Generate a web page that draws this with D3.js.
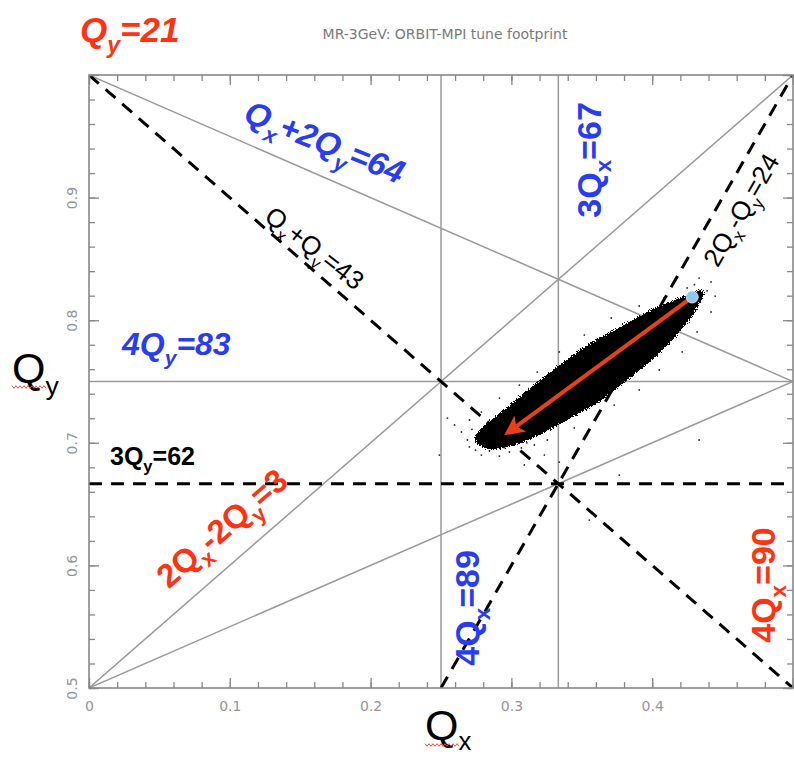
<!DOCTYPE html>
<html>
<head>
<meta charset="utf-8">
<script src="https://cdn.jsdelivr.net/npm/d3@7"></script>
<style>
  html, body { margin: 0; padding: 0; background: #fff; }
  svg { display: block; }
</style>
</head>
<body>
<svg id="chart" width="794" height="757"></svg>
<script>
// ---- data -------------------------------------------------------------
const qxRange = [0, 0.5];
const qyRange = [0.5, 1.0];
const qxTickLabels = [0, 0.1, 0.2, 0.3, 0.4];
const qyTickLabels = [0.5, 0.6, 0.7, 0.8, 0.9];

// resonance lines in fractional tune space [qx1, qy1, qx2, qy2]
const solidLines = [
  [0.25, 0.5, 0.25, 1.0],          // 4Qx=89
  [1 / 3, 0.5, 1 / 3, 1.0],        // 3Qx=67
  [0.0, 0.75, 0.5, 0.75],          // 4Qy=83
  [0.0, 1.0, 0.5, 0.75],           // Qx+2Qy=64
  [0.0, 0.5, 0.5, 1.0],            // 2Qx-2Qy=3
  [0.0, 0.5, 0.5, 0.75]            // Qx-2Qy
];
const dashedLines = [
  [0.0, 1.0, 0.5, 0.5],            // Qx+Qy=43
  [0.25, 0.5, 0.5, 1.0],           // 2Qx-Qy=24
  [0.0, 2 / 3, 0.5, 2 / 3]         // 3Qy=62
];

// dense core of the tune footprint (outline)
const footprintCore = [
  [0.4369, 0.8254], [0.4191, 0.8170], [0.3979, 0.8067], [0.3766, 0.7930],
  [0.3553, 0.7800], [0.3340, 0.7622], [0.3128, 0.7433], [0.2950, 0.7262],
  [0.2820, 0.7145], [0.2735, 0.7030], [0.2835, 0.6955], [0.3021, 0.6985],
  [0.3199, 0.7075], [0.3411, 0.7205], [0.3624, 0.7345], [0.3837, 0.7535],
  [0.4014, 0.7700], [0.4156, 0.7865], [0.4262, 0.8010], [0.4333, 0.8148]
];
// sparse particles around the core
const footprintStray = [
  [0.2596, 0.7145], [0.2645, 0.7088], [0.2688, 0.7023], [0.2702, 0.6966],
  [0.2745, 0.6941], [0.2787, 0.6900], [0.2844, 0.6933], [0.2915, 0.6892],
  [0.2986, 0.6925], [0.3071, 0.6958], [0.3163, 0.6982], [0.3255, 0.7023],
  [0.3340, 0.6843], [0.3092, 0.6819], [0.3234, 0.6900], [0.3447, 0.7121],
  [0.3589, 0.7186], [0.3730, 0.7308], [0.3908, 0.7431], [0.4050, 0.7594],
  [0.4213, 0.7741], [0.4319, 0.7904], [0.4418, 0.8067], [0.4447, 0.8197],
  [0.4418, 0.8312], [0.4333, 0.8344], [0.4248, 0.8263], [0.4085, 0.8181],
  [0.3908, 0.8116], [0.3709, 0.8018], [0.3518, 0.7879], [0.3340, 0.7741],
  [0.3184, 0.7577], [0.3057, 0.7471], [0.2915, 0.7365], [0.2787, 0.7251],
  [0.2702, 0.7186], [0.2546, 0.7202], [0.3766, 0.6737], [0.4333, 0.7023],
  [0.3553, 0.6370], [0.2489, 0.6900], [0.2720, 0.7110], [0.2810, 0.6985],
  [0.2950, 0.6960], [0.3110, 0.7000], [0.4390, 0.8240], [0.4300, 0.8290]
];
const bareTune = [0.4284, 0.8189];
const shiftedTune = [0.2972, 0.7080];

// ---- layout -----------------------------------------------------------
const svg = d3.select("#chart");
const x = d3.scaleLinear().domain(qxRange).range([89, 793]);
const y = d3.scaleLinear().domain(qyRange).range([688, 75]);

const FONT = "'Liberation Sans', Arial, sans-serif";
const BLUE = "#2a3cf0";
const RED = "#ff3311";

const defs = svg.append("defs");
defs.append("clipPath").attr("id", "plotClip")
  .append("rect").attr("x", x(0)).attr("y", y(1)).attr("width", x(0.5) - x(0)).attr("height", y(0.5) - y(1));

// speckled edge for the particle cloud: blurred shape + fine noise, then thresholded
function grainFilter(id, blur, k3, k4, seed) {
  const f = defs.append("filter").attr("id", id)
    .attr("x", "-30%").attr("y", "-30%").attr("width", "160%").attr("height", "160%");
  f.append("feGaussianBlur").attr("in", "SourceGraphic").attr("stdDeviation", blur).attr("result", "b");
  f.append("feTurbulence").attr("type", "fractalNoise").attr("baseFrequency", 0.85)
    .attr("numOctaves", 1).attr("seed", seed).attr("result", "n");
  f.append("feColorMatrix").attr("in", "n").attr("type", "matrix")
    .attr("values", "0 0 0 0 0  0 0 0 0 0  0 0 0 0 0  1 0 0 0 0").attr("result", "na");
  f.append("feComposite").attr("in", "b").attr("in2", "na").attr("operator", "arithmetic")
    .attr("k1", 0).attr("k2", 1).attr("k3", k3).attr("k4", k4).attr("result", "m");
  const ct = f.append("feComponentTransfer").attr("in", "m");
  ct.append("feFuncR").attr("type", "linear").attr("slope", 0).attr("intercept", 0);
  ct.append("feFuncG").attr("type", "linear").attr("slope", 0).attr("intercept", 0);
  ct.append("feFuncB").attr("type", "linear").attr("slope", 0).attr("intercept", 0);
  ct.append("feFuncA").attr("type", "discrete").attr("tableValues", "0 1");
}
grainFilter("grainCore", 3.5, 0.8, -0.3, 4);
grainFilter("grainHalo", 9, 1.2, -0.78, 11);

defs.append("marker").attr("id", "head").attr("viewBox", "0 0 10 10")
  .attr("refX", 8).attr("refY", 5).attr("markerWidth", 6).attr("markerHeight", 5)
  .attr("orient", "auto").attr("markerUnits", "strokeWidth")
  .append("path").attr("d", "M0,0 L10,5 L0,10 L2.5,5 Z").attr("fill", "#e8401c");

const plot = svg.append("g").attr("clip-path", "url(#plotClip)");

// resonance lines
plot.selectAll("line.solid").data(solidLines).join("line").attr("class", "solid")
  .attr("x1", d => x(d[0])).attr("y1", d => y(d[1]))
  .attr("x2", d => x(d[2])).attr("y2", d => y(d[3]))
  .attr("stroke", "#9a9a9a").attr("stroke-width", 1.5);

// footprint
const cloud = d3.line().x(d => x(d[0])).y(d => y(d[1])).curve(d3.curveCardinalClosed.tension(0.3));
plot.append("g").attr("filter", "url(#grainHalo)")
  .append("path").attr("d", cloud(footprintCore)).attr("fill", "#000");
plot.append("g").attr("filter", "url(#grainCore)")
  .append("path").attr("d", cloud(footprintCore)).attr("fill", "#000");
plot.selectAll("circle.stray").data(footprintStray).join("circle").attr("class", "stray")
  .attr("cx", d => x(d[0])).attr("cy", d => y(d[1])).attr("r", 0.9).attr("fill", "#222");

plot.selectAll("line.dash").data(dashedLines).join("line").attr("class", "dash")
  .attr("x1", d => x(d[0])).attr("y1", d => y(d[1]))
  .attr("x2", d => x(d[2])).attr("y2", d => y(d[3]))
  .attr("stroke", "#000").attr("stroke-width", 3).attr("stroke-dasharray", "13,9");

// tune shift arrow
plot.append("line")
  .attr("x1", x(bareTune[0])).attr("y1", y(bareTune[1]))
  .attr("x2", x(shiftedTune[0])).attr("y2", y(shiftedTune[1]))
  .attr("stroke", "#e8401c").attr("stroke-width", 4).attr("marker-end", "url(#head)");
plot.append("circle").attr("cx", x(bareTune[0])).attr("cy", y(bareTune[1])).attr("r", 6)
  .attr("fill", "#8fc8ef").attr("stroke", "#cfe6f7").attr("stroke-width", 1);

// ---- axes ---------------------------------------------------------------
const minorX = d3.range(0, 0.5001, 0.02), minorY = d3.range(0.5, 1.0001, 0.02);
const majorX = d3.range(0, 0.5001, 0.1), majorY = d3.range(0.5, 1.0001, 0.1);
function styleAxis(g) {
  g.select(".domain").remove();
  g.selectAll(".tick line").attr("stroke", "#888").attr("stroke-width", 1.3);
  g.selectAll("text").attr("fill", "#959595").attr("font-family", "'DejaVu Sans', sans-serif").attr("font-size", 14);
}
svg.append("g").attr("transform", `translate(0,${y(0.5)})`)
  .call(d3.axisBottom(x).tickValues(minorX).tickSize(-6).tickFormat("")).call(styleAxis);
svg.append("g").attr("transform", `translate(0,${y(0.5)})`)
  .call(d3.axisBottom(x).tickValues(majorX).tickSize(-10).tickFormat("")).call(styleAxis);
svg.append("g").attr("transform", `translate(0,${y(1)})`)
  .call(d3.axisTop(x).tickValues(minorX).tickSize(-6).tickFormat("")).call(styleAxis);
svg.append("g").attr("transform", `translate(0,${y(1)})`)
  .call(d3.axisTop(x).tickValues(majorX).tickSize(-10).tickFormat("")).call(styleAxis);
svg.append("g").attr("transform", `translate(${x(0)},0)`)
  .call(d3.axisLeft(y).tickValues(minorY).tickSize(-6).tickFormat("")).call(styleAxis);
svg.append("g").attr("transform", `translate(${x(0)},0)`)
  .call(d3.axisLeft(y).tickValues(majorY).tickSize(-10).tickFormat("")).call(styleAxis);
svg.append("g").attr("transform", `translate(${x(0.5)},0)`)
  .call(d3.axisRight(y).tickValues(minorY).tickSize(-6).tickFormat("")).call(styleAxis);
svg.append("g").attr("transform", `translate(${x(0.5)},0)`)
  .call(d3.axisRight(y).tickValues(majorY).tickSize(-10).tickFormat("")).call(styleAxis);

// tick labels
svg.append("g").attr("transform", `translate(0,${y(0.5)})`)
  .call(d3.axisBottom(x).tickValues(qxTickLabels).tickSize(0).tickPadding(13).tickFormat(d => d === 0 ? "0" : d3.format(".1f")(d)))
  .call(styleAxis);
const yl = svg.append("g").attr("transform", `translate(${x(0)},0)`)
  .call(d3.axisLeft(y).tickValues(qyTickLabels).tickSize(0).tickFormat(d3.format(".1f")))
  .call(styleAxis);
yl.selectAll("text").attr("transform", "rotate(-90)").attr("x", 0).attr("y", -12).attr("dy", 0)
  .attr("text-anchor", "middle");

// frame
svg.append("rect").attr("x", x(0)).attr("y", y(1)).attr("width", x(0.5) - x(0)).attr("height", y(0.5) - y(1))
  .attr("fill", "none").attr("stroke", "#888").attr("stroke-width", 1.6);

// ---- text ---------------------------------------------------------------
// parts: [string, isSubscript]
function label(parts, o) {
  const t = svg.append("text")
    .attr("transform", `translate(${o.x},${o.y}) rotate(${o.rotate || 0})`)
    .attr("text-anchor", o.anchor || "middle")
    .attr("font-family", o.family || FONT)
    .attr("font-size", o.size)
    .attr("font-weight", o.weight || "bold")
    .attr("font-style", o.italic ? "italic" : "normal")
    .attr("fill", o.fill || "#000");
  const shift = o.size * (o.subShift || 0.3);
  let down = false;
  const first = o.center ? o.size * 0.35 : 0;
  parts.forEach((p, i) => {
    const sub = !!p[1];
    const ts = t.append("tspan").text(p[0]);
    let dy = 0;
    if (sub && !down) { dy = shift; down = true; }
    else if (!sub && down) { dy = -shift; down = false; }
    if (i === 0) dy += first;
    if (dy) ts.attr("dy", dy);
    if (sub) ts.attr("font-size", o.size * (o.subScale || 0.66));
  });
  return t;
}

// top-left marker of the tune integer
label([["Q"], ["y", 1], ["=21"]], { x: 80, y: 42, size: 35, italic: true, fill: RED, anchor: "start" });

// title
svg.append("text").attr("x", 445).attr("y", 39).attr("text-anchor", "middle")
  .attr("font-family", "'DejaVu Sans', sans-serif").attr("font-size", 14).attr("fill", "#7a7a7a")
  .text("MR-3GeV: ORBIT-MPI tune footprint");

// axis titles
label([["Q"], ["x", 1]], { x: 425, y: 740, size: 43, weight: "normal", anchor: "start", subShift: 0.24, subScale: 0.6 });
label([["Q"], ["y", 1]], { x: 12, y: 383, size: 43, weight: "normal", anchor: "start", subShift: 0.28, subScale: 0.62 });
// spell-check squiggles under the axis titles
function squiggle(x0, x1, yy) {
  const pts = d3.range(x0, x1 + 0.1, 2).map((v, i) => [v, yy + (i % 2 ? 1.3 : -1.3)]);
  svg.append("path").attr("d", d3.line()(pts)).attr("fill", "none").attr("stroke", "#e05050").attr("stroke-width", 1);
}
squiggle(425, 459, 745);
squiggle(12, 47, 387);

// resonance labels
label([["Q"], ["x", 1], ["+2Q"], ["y", 1], ["=64"]],
  { x: x(0.1674), y: y(0.9454), rotate: 22, size: 33, italic: true, fill: BLUE, center: true });
label([["3Q"], ["x", 1], ["=67"]],
  { x: x(0.3553), y: y(0.9307), rotate: -90, size: 34, fill: BLUE, center: true });
label([["Q"], ["x", 1], ["+Q"], ["y", 1], ["=43"]],
  { x: x(0.1603), y: y(0.8589), rotate: 38, size: 26, weight: "normal", fill: "#000", center: true });
label([["2Q"], ["x", 1], ["-Q"], ["y", 1], ["=24"]],
  { x: x(0.4631), y: y(0.8899), rotate: -60, size: 26, weight: "normal", fill: "#000", center: true });
label([["4Q"], ["y", 1], ["=83"]],
  { x: x(0.0234), y: y(0.7716), size: 32, italic: true, fill: BLUE, anchor: "start" });
label([["3Q"], ["y", 1], ["=62"]],
  { x: x(0.0149), y: y(0.6819), size: 25, fill: "#000", anchor: "start" });
label([["2Q"], ["x", 1], ["-2Q"], ["y", 1], ["=3"]],
  { x: x(0.0943), y: y(0.6305), rotate: -41, size: 33, fill: RED, center: true });
label([["4Q"], ["x", 1], ["=89"]],
  { x: x(0.2688), y: y(0.5653), rotate: -90, size: 34, fill: BLUE, center: true });
label([["4Q"], ["x", 1], ["=90"]],
  { x: x(0.4790), y: y(0.5840), rotate: -90, size: 34, fill: RED, center: true });
</script>
</body>
</html>
